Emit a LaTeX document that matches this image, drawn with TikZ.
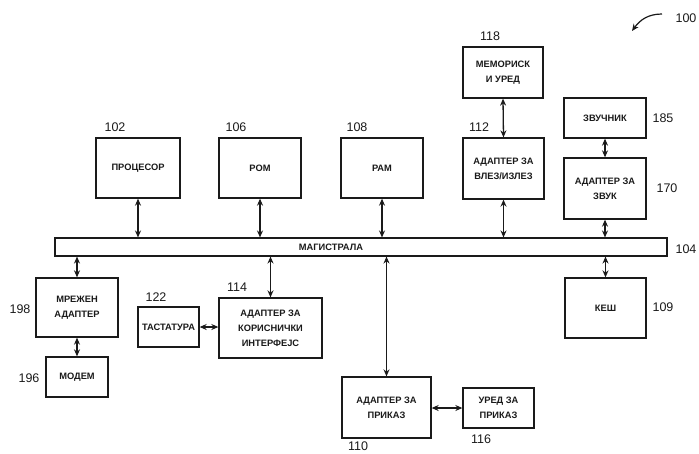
\documentclass[tikz,border=0pt]{standalone}
\usepackage{fontspec}
\setmainfont{Liberation Sans}
\usepackage{xcolor}
\usepackage{tikz}
\usetikzlibrary{arrows.meta}
\definecolor{pcInk}{HTML}{1A1A1A}
\tikzset{
  pc diagram/.style={x=1pt, y=-1pt, text=pcInk, line join=miter},
  pc box/.style={draw=pcInk, fill=white, line width=1.3pt, align=center,
    inner sep=2pt, font=\fontsize{9.3}{15}\selectfont\bfseries},
  pc bus/.style={draw=pcInk, line width=1.1pt, inner sep=0pt,
    minimum width=612pt, minimum height=18pt},
  pc arrow/.style={{Stealth[length=7pt,width=6pt]}-{Stealth[length=7pt,width=6pt]},
    draw=pcInk, line width=1.3pt},
  pc ref/.style={-{Stealth[length=7pt,width=6pt]}, draw=pcInk, line width=1.2pt},
  pc num/.style={font=\fontsize{12.5}{14}\selectfont, text=pcInk, inner sep=0pt},
  pc label/.style={font=\fontsize{9.3}{10}\selectfont\bfseries, text=pcInk, inner sep=0pt}
}
\begin{document}
\begin{tikzpicture}[pc diagram]
\useasboundingbox (0,0) rectangle (699,453);
\node[pc bus] (bus) at (361,247) {};
\node[pc label] (buslabel) at (331,247) {МАГИСТРАЛА};
\node[pc box,minimum width=84pt,minimum height=60pt] (proc) at (138,168) {ПРОЦЕСОР};
\node[pc box,minimum width=82pt,minimum height=60pt] (rom) at (260,168) {РОМ};
\node[pc box,minimum width=82pt,minimum height=60pt] (ram) at (382,168) {РАМ};
\node[pc box,minimum width=80pt,minimum height=51pt] (mem) at (503,72.5) {МЕМОРИСК\\И УРЕД};
\node[pc box,minimum width=81pt,minimum height=61pt] (io) at (503.5,168.5) {АДАПТЕР ЗА\\ВЛЕЗ/ИЗЛЕЗ};
\node[pc box,minimum width=82pt,minimum height=40pt] (spk) at (605,118) {ЗВУЧНИК};
\node[pc box,minimum width=82pt,minimum height=61pt] (snd) at (605,188.5) {АДАПТЕР ЗА\\ЗВУК};
\node[pc box,minimum width=82pt,minimum height=59pt] (net) at (77,307.5) {МРЕЖЕН\\АДАПТЕР};
\node[pc box,minimum width=62pt,minimum height=40pt] (modem) at (77,377) {МОДЕМ};
\node[pc box,minimum width=61pt,minimum height=40pt,inner sep=1pt] (kbd) at (168.5,327) {ТАСТАТУРА};
\node[pc box,minimum width=103pt,minimum height=60pt] (ui) at (270.5,328) {АДАПТЕР ЗА\\КОРИСНИЧКИ\\ИНТЕРФЕЈС};
\node[pc box,minimum width=81pt,minimum height=60pt] (cache) at (605.5,308) {КЕШ};
\node[pc box,minimum width=89pt,minimum height=61pt] (disp) at (386.5,407.5) {АДАПТЕР ЗА\\ПРИКАЗ};
\node[pc box,minimum width=71pt,minimum height=40pt] (dev) at (498.5,408) {УРЕД ЗА\\ПРИКАЗ};
\node[pc num] (n102) at (115,127) {102};
\node[pc num] (n106) at (236,127) {106};
\node[pc num] (n108) at (357,127) {108};
\node[pc num] (n118) at (490,36) {118};
\node[pc num] (n112) at (479,127) {112};
\node[pc num] (n185) at (663,118) {185};
\node[pc num] (n170) at (667,188) {170};
\node[pc num] (n100) at (686,18) {100};
\node[pc num] (n104) at (686,249) {104};
\node[pc num] (n109) at (663,307) {109};
\node[pc num] (n110) at (358,446) {110};
\node[pc num] (n116) at (481,439) {116};
\node[pc num] (n198) at (20,309) {198};
\node[pc num] (n196) at (29,378) {196};
\node[pc num] (n122) at (156,297) {122};
\node[pc num] (n114) at (237,287) {114};
\draw[pc arrow] (proc.south) -- (proc.south |- bus.north);
\draw[pc arrow] (rom.south) -- (rom.south |- bus.north);
\draw[pc arrow] (ram.south) -- (ram.south |- bus.north);
\draw[pc arrow] (mem.south) -- (io.north);
\draw[pc arrow] (io.south) -- (io.south |- bus.north);
\draw[pc arrow] (spk.south) -- (snd.north);
\draw[pc arrow] (snd.south) -- (snd.south |- bus.north);
\draw[pc arrow] (bus.south -| net.north) -- (net.north);
\draw[pc arrow] (net.south) -- (modem.north);
\draw[pc arrow] (bus.south -| ui.north) -- (ui.north);
\draw[pc arrow] (kbd.east) -- (kbd.east -| ui.west);
\draw[pc arrow] (bus.south -| cache.north) -- (cache.north);
\draw[pc arrow] (bus.south -| disp.north) -- (disp.north);
\draw[pc arrow] (disp.east |- dev.west) -- (dev.west);
\coordinate (reftail) at (662,14);
\coordinate (reftip) at (632,31);
\draw[pc ref] (reftail) .. controls (648,14) and (640,20) .. (reftip);
\end{tikzpicture}
\end{document}
